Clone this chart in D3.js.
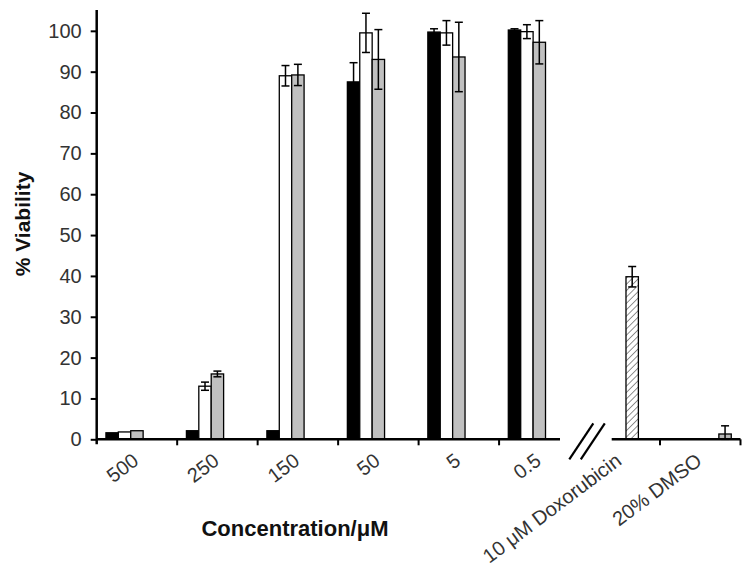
<!DOCTYPE html>
<html>
<head>
<meta charset="utf-8">
<script src="https://cdn.jsdelivr.net/npm/d3@7"></script>
<style>
  body { margin: 0; background: #fff; }
  text { font-family: "Liberation Sans", Arial, sans-serif; }
</style>
</head>
<body>
<div id="chart"></div>
<script>
// categories along the x axis
const categories = ["500", "250", "150", "50", "5", "0.5", "10 μM Doxorubicin", "20% DMSO"];
const concCats = ["500", "250", "150", "50", "5", "0.5"];

// three compound series (black / white / grey bars)
const blackVals = [1.6, 2.1, 2.1, 87.5, 99.7, 100.2];
const blackErr  = [0, 0, 0, 4.7, 0.8, 0.3];
const whiteVals = [1.8, 13.0, 89.0, 99.5, 99.5, 99.8];
const whiteErr  = [0, 1.0, 2.5, 4.8, 3.0, 1.7];
const greyVals  = [2.1, 16.0, 89.2, 93.0, 93.6, 97.2];
const greyErr   = [0, 0.7, 2.6, 7.3, 8.5, 5.3];

// controls
const doxVal = 39.8, doxErr = 2.5;
const dmsoVal = 1.3, dmsoErr = 2.0;

const yTicks = [0, 10, 20, 30, 40, 50, 60, 70, 80, 90, 100];

const width = 752, height = 572;
const x0 = 96.7, x1 = 740.5, yBase = 439.3, yTop = 10;

const svg = d3.select('#chart').append('svg')
  .attr('width', width)
  .attr('height', height);

// hatch pattern for doxorubicin
svg.append('defs').append('pattern')
  .attr('id', 'hatch')
  .attr('patternUnits', 'userSpaceOnUse')
  .attr('width', 4.5).attr('height', 4.5)
  .attr('patternTransform', 'rotate(45)')
  .append('line')
  .attr('x1', 0).attr('y1', 0).attr('x2', 0).attr('y2', 4.5)
  .attr('stroke', '#222').attr('stroke-width', 1);

const x = d3.scaleBand().domain(categories).range([x0, x1]).paddingInner(0).paddingOuter(0);
const slot = d3.scaleBand()
  .domain(['black', 'white', 'grey', 'dox', 'dmso'])
  .range([0, x.bandwidth()])
  .paddingInner(0).paddingOuter(0.745);
const y = d3.scaleLinear().domain([0, 105.1]).range([yBase, yTop]);

// build bar records
const bars = [];
concCats.forEach((c, i) => {
  bars.push({ cat: c, s: 'black', v: blackVals[i], e: blackErr[i], fill: '#000' });
  bars.push({ cat: c, s: 'white', v: whiteVals[i], e: whiteErr[i], fill: '#fff' });
  bars.push({ cat: c, s: 'grey', v: greyVals[i], e: greyErr[i], fill: '#c0c0c0' });
});
bars.push({ cat: categories[6], s: 'dox', v: doxVal, e: doxErr, fill: 'url(#hatch)' });
bars.push({ cat: categories[7], s: 'dmso', v: dmsoVal, e: dmsoErr, fill: '#b8b8b8' });

svg.append('g').selectAll('rect')
  .data(bars)
  .enter()
  .append('rect')
  .attr('x', d => x(d.cat) + slot(d.s))
  .attr('y', d => y(d.v))
  .attr('width', slot.bandwidth())
  .attr('height', d => yBase - y(d.v))
  .attr('fill', d => d.fill)
  .attr('stroke', '#000')
  .attr('stroke-width', 1.3);

// error bars
const eb = svg.append('g').attr('stroke', '#000').attr('stroke-width', 1.5);
bars.filter(d => d.e > 0).forEach(d => {
  const cx = x(d.cat) + slot(d.s) + slot.bandwidth() / 2;
  const lo = Math.max(0, d.v - d.e), hi = d.v + d.e;
  eb.append('line').attr('x1', cx).attr('x2', cx).attr('y1', y(lo)).attr('y2', y(hi));
  eb.append('line').attr('x1', cx - 4).attr('x2', cx + 4).attr('y1', y(hi)).attr('y2', y(hi));
  eb.append('line').attr('x1', cx - 4).attr('x2', cx + 4).attr('y1', y(lo)).attr('y2', y(lo));
});

// y axis
const yAxis = svg.append('g')
  .attr('transform', `translate(${x0},0)`)
  .call(d3.axisLeft(y).tickValues(yTicks).tickSize(6).tickPadding(9));
yAxis.select('.domain').attr('d', `M0,${yTop}V${yBase + 5}`).attr('stroke-width', 2.5);
yAxis.selectAll('.tick line').attr('stroke-width', 2);
yAxis.selectAll('.tick text')
  .attr('font-size', 20)
  .attr('fill', '#333')
  .style('font-family', '"Liberation Sans", Arial, sans-serif');

// x axis line with break
const breakL = 560, breakR = 611.7;
const xa = svg.append('g').attr('stroke', '#000').attr('stroke-width', 2.5);
xa.append('line').attr('x1', x0).attr('x2', breakL).attr('y1', yBase).attr('y2', yBase);
xa.append('line').attr('x1', breakR).attr('x2', x1).attr('y1', yBase).attr('y2', yBase);
// ticks at category boundaries (skip the one hidden by the break)
const boundaries = categories.map(c => x(c) + x.bandwidth()).filter(v => v < breakL || v > breakR);
xa.selectAll('.xt')
  .data(boundaries)
  .enter()
  .append('line')
  .attr('x1', d => d).attr('x2', d => d)
  .attr('y1', yBase).attr('y2', yBase + 6)
  .attr('stroke-width', 2);

// break marks
[0, 11.5].forEach(off => {
  svg.append('line')
    .attr('x1', 569.3 + off).attr('y1', 459.3)
    .attr('x2', 593.3 + off).attr('y2', 423.3)
    .attr('stroke', '#000').attr('stroke-width', 2.2);
});

// category labels
svg.append('g').selectAll('text')
  .data(categories)
  .enter()
  .append('text')
  .attr('transform', d => `translate(${x(d) + x.bandwidth() / 2 + 3},${yBase + 24}) rotate(-37)`)
  .attr('text-anchor', 'end')
  .attr('font-size', 20)
  .attr('fill', '#333')
  .text(d => d);

// axis titles
svg.append('text')
  .attr('x', 295).attr('y', 536)
  .attr('text-anchor', 'middle')
  .attr('font-size', 22)
  .attr('font-weight', 'bold')
  .attr('fill', '#111')
  .text('Concentration/μM');

svg.append('text')
  .attr('transform', 'translate(30,224) rotate(-90)')
  .attr('text-anchor', 'middle')
  .attr('font-size', 21)
  .attr('font-weight', 'bold')
  .attr('fill', '#111')
  .text('% Viability');
</script>
</body>
</html>
